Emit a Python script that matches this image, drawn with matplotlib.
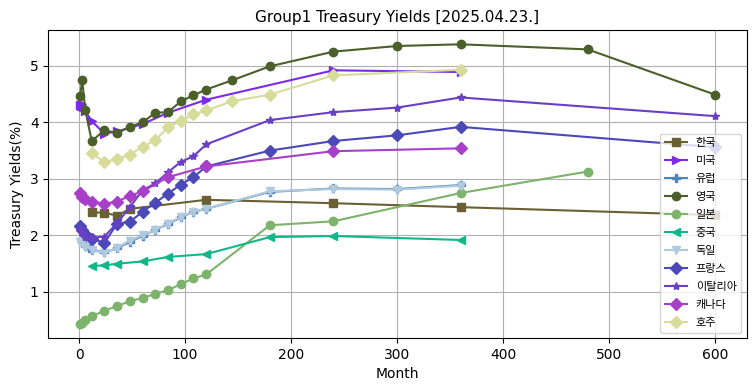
import matplotlib
matplotlib.use("Agg")
import matplotlib.pyplot as plt

plt.rcParams['font.family'] = ['DejaVu Sans', 'Noto Sans CJK KR']

# 국가별 만기(개월)와 금리(%)
kr_m = [12, 24, 36, 48, 120, 240, 360, 600]
kr_y = [2.41, 2.40, 2.35, 2.47, 2.63, 2.57, 2.50, 2.36]

us_m = [1, 2, 3, 4, 6, 12, 24, 36, 60, 84, 120, 240, 360]
us_y = [4.30, 4.29, 4.32, 4.27, 4.20, 4.02, 3.80, 3.84, 3.97, 4.17, 4.40, 4.92, 4.89]

eu_m = [3, 6, 9, 12, 24, 36, 48, 60, 72, 84, 96, 108, 120, 180, 240, 300, 360]
eu_y = [1.88, 1.82, 1.77, 1.74, 1.70, 1.77, 1.89, 1.99, 2.10, 2.20, 2.32, 2.42, 2.47, 2.77, 2.83, 2.82, 2.89]

uk_m = [1, 3, 6, 12, 24, 36, 48, 60, 72, 84, 96, 108, 120, 144, 180, 240, 300, 360, 480, 600]
uk_y = [4.47, 4.74, 4.21, 3.67, 3.86, 3.81, 3.92, 4.00, 4.17, 4.18, 4.37, 4.48, 4.58, 4.74, 4.99,
        5.25, 5.35, 5.38, 5.29, 4.49]

jp_m = [1, 3, 6, 12, 24, 36, 48, 60, 72, 84, 96, 108, 120, 180, 240, 360, 480]
jp_y = [0.43, 0.45, 0.50, 0.57, 0.67, 0.75, 0.84, 0.89, 0.97, 1.03, 1.14, 1.24, 1.31, 2.18, 2.25, 2.75, 3.13]

cn_m = [12, 24, 36, 60, 84, 120, 180, 240, 360]
cn_y = [1.46, 1.47, 1.50, 1.54, 1.62, 1.67, 1.97, 1.99, 1.92]

de_m = [1, 3, 6, 12, 24, 36, 48, 60, 72, 84, 96, 108, 120, 180, 240, 300, 360]
de_y = [1.89, 1.86, 1.80, 1.75, 1.69, 1.78, 1.91, 2.00, 2.10, 2.21, 2.33, 2.42, 2.47, 2.78, 2.82, 2.81, 2.88]

fr_m = [1, 3, 6, 12, 24, 36, 48, 60, 72, 84, 96, 108, 120, 180, 240, 300, 360, 600]
fr_y = [2.17, 2.10, 2.03, 1.94, 1.87, 2.21, 2.24, 2.42, 2.58, 2.74, 2.90, 3.03, 3.22, 3.50, 3.67, 3.77, 3.92, 3.56]

it_m = [1, 3, 6, 12, 24, 36, 48, 60, 72, 84, 96, 108, 120, 180, 240, 300, 360, 600]
it_y = [2.12, 2.05, 1.98, 1.96, 1.98, 2.22, 2.50, 2.80, 2.92, 3.12, 3.30, 3.40, 3.61, 4.04, 4.18, 4.26, 4.44, 4.11]

ca_m = [1, 3, 6, 12, 24, 36, 48, 60, 84, 120, 240, 360]
ca_y = [2.75, 2.68, 2.64, 2.60, 2.56, 2.60, 2.70, 2.78, 3.03, 3.22, 3.49, 3.54]

au_m = [12, 24, 36, 48, 60, 72, 84, 96, 108, 120, 144, 180, 240, 360]
au_y = [3.45, 3.30, 3.35, 3.43, 3.57, 3.68, 3.92, 4.02, 4.14, 4.21, 4.37, 4.49, 4.83, 4.93]

series = [
    ('한국', kr_m, kr_y, 's', '#6b6033'),
    ('미국', us_m, us_y, '>', '#7b2be8'),
    ('유럽', eu_m, eu_y, 'P', '#4f86b8'),
    ('영국', uk_m, uk_y, 'o', '#4a5f2a'),
    ('일본', jp_m, jp_y, 'o', '#7db36b'),
    ('중국', cn_m, cn_y, '<', '#10b889'),
    ('독일', de_m, de_y, 'v', '#afc9de'),
    ('프랑스', fr_m, fr_y, 'D', '#4b48b8'),
    ('이탈리아', it_m, it_y, '*', '#6a3fc8'),
    ('캐나다', ca_m, ca_y, 'D', '#a83fc8'),
    ('호주', au_m, au_y, 'D', '#d8dc9a'),
]

fig = plt.figure(figsize=(7.55, 3.91), dpi=100)
ax = fig.add_axes([0.064, 0.135, 0.925, 0.7875])

for name, m, y, mk, c in series:
    ax.plot(m, y, marker=mk, color=c, label=name)

ax.set_title('Group1 Treasury Yields [2025.04.23.]', fontsize=11)
ax.set_xlabel('Month')
ax.set_ylabel('Treasury Yields(%)')
ax.grid(True)
ax.legend(loc='lower right', prop={'family': 'Noto Sans CJK KR', 'size': 8},
          labelspacing=0.72)

fig.savefig('out.png', dpi=100)
